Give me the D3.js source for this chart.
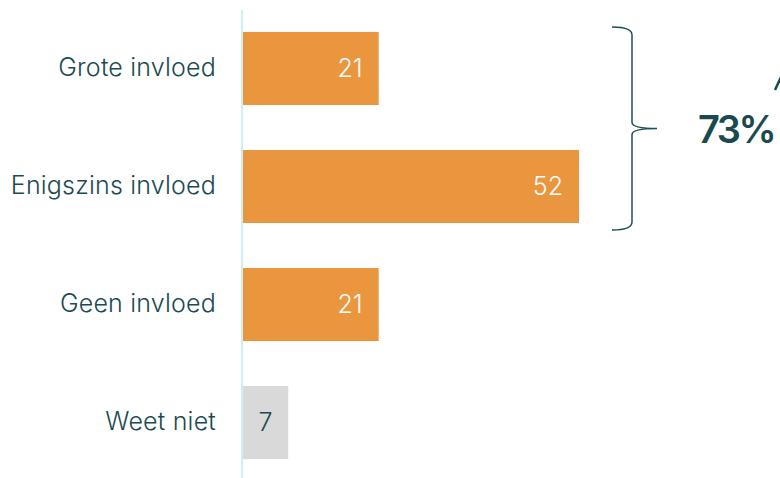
<!DOCTYPE html>
<html><head><meta charset="utf-8">
<script src="https://cdn.jsdelivr.net/npm/d3@7"></script>
<style>body{margin:0;background:#fff;overflow:hidden}svg{display:block}</style>
</head><body><svg id="c" width="780" height="478"></svg>
<script>
const categories = ["Grote invloed","Enigszins invloed","Geen invloed","Weet niet"];
const values = [21,52,21,7];
const barColors = ["#E9963E","#E9963E","#E9963E","#D9D9D9"];
const labelColors = ["#ffffff","#ffffff","#ffffff","#1B4A52"];
const bracketLabel = "73%";

(function(){
const svg = d3.select("#c");
const font = "Inter, 'Open Sans', sans-serif";
const y = d3.scaleBand().domain(categories).range([9.5,481.5]).paddingInner(0.381).paddingOuter(0.19);
const x = d3.scaleLinear().domain([0,52]).range([243,579]);

svg.selectAll("rect.bar").data(categories).join("rect")
  .attr("x", x(0)).attr("y", d=>y(d)).attr("height", y.bandwidth())
  .attr("width", (d,i)=>x(values[i])-x(0)).attr("fill",(d,i)=>barColors[i]);

svg.append("line").attr("x1",242).attr("x2",242).attr("y1",10).attr("y2",478)
  .attr("stroke","#cdeef2").attr("stroke-width",2);

svg.selectAll("text.cat").data(categories).join("text")
  .attr("x",216).attr("y",d=>y(d)+y.bandwidth()/2).attr("dy","0.3em")
  .attr("text-anchor","end").attr("font-family",font).attr("font-weight",300)
  .attr("font-size",25).attr("letter-spacing",0.2).attr("fill","#1B4A52").text(d=>d);

svg.selectAll("text.val").data(categories).join("text")
  .attr("x",(d,i)=> i===3 ? (x(0)+x(values[i]))/2 : x(values[i])-16)
  .attr("y",d=>y(d)+y.bandwidth()/2).attr("dy","0.33em")
  .attr("text-anchor",(d,i)=> i===3 ? "middle":"end")
  .attr("font-family",font).attr("font-weight",300).attr("font-size",25)
  .attr("fill",(d,i)=>labelColors[i]).text((d,i)=>values[i]);

// brace
const bTop = y(categories[0]) - 5, bBot = y(categories[1]) + y.bandwidth() + 7, mid = (bTop+bBot)/2;
const bx = 632;
svg.append("path").attr("fill","none").attr("stroke","#1E4F56").attr("stroke-width",1.5)
  .attr("d",`M612,${bTop} Q632,${bTop} ${bx},${bTop+8} L${bx},${mid-6} Q${bx},${mid} 657,${mid}
   M612,${bBot} Q632,${bBot} ${bx},${bBot-8} L${bx},${mid+6} Q${bx},${mid} 657,${mid}`);

svg.append("text").attr("x",698).attr("y",mid).attr("dy","0.37em")
  .attr("font-family",font).attr("font-weight",600).attr("font-size",38).attr("letter-spacing",-2.5)
  .attr("fill","#1A4A50").text(bracketLabel);
svg.append("path").attr("d","M775,90 L781,77").attr("stroke","#1A4A50").attr("stroke-width",2.5);
})();
</script></body></html>
